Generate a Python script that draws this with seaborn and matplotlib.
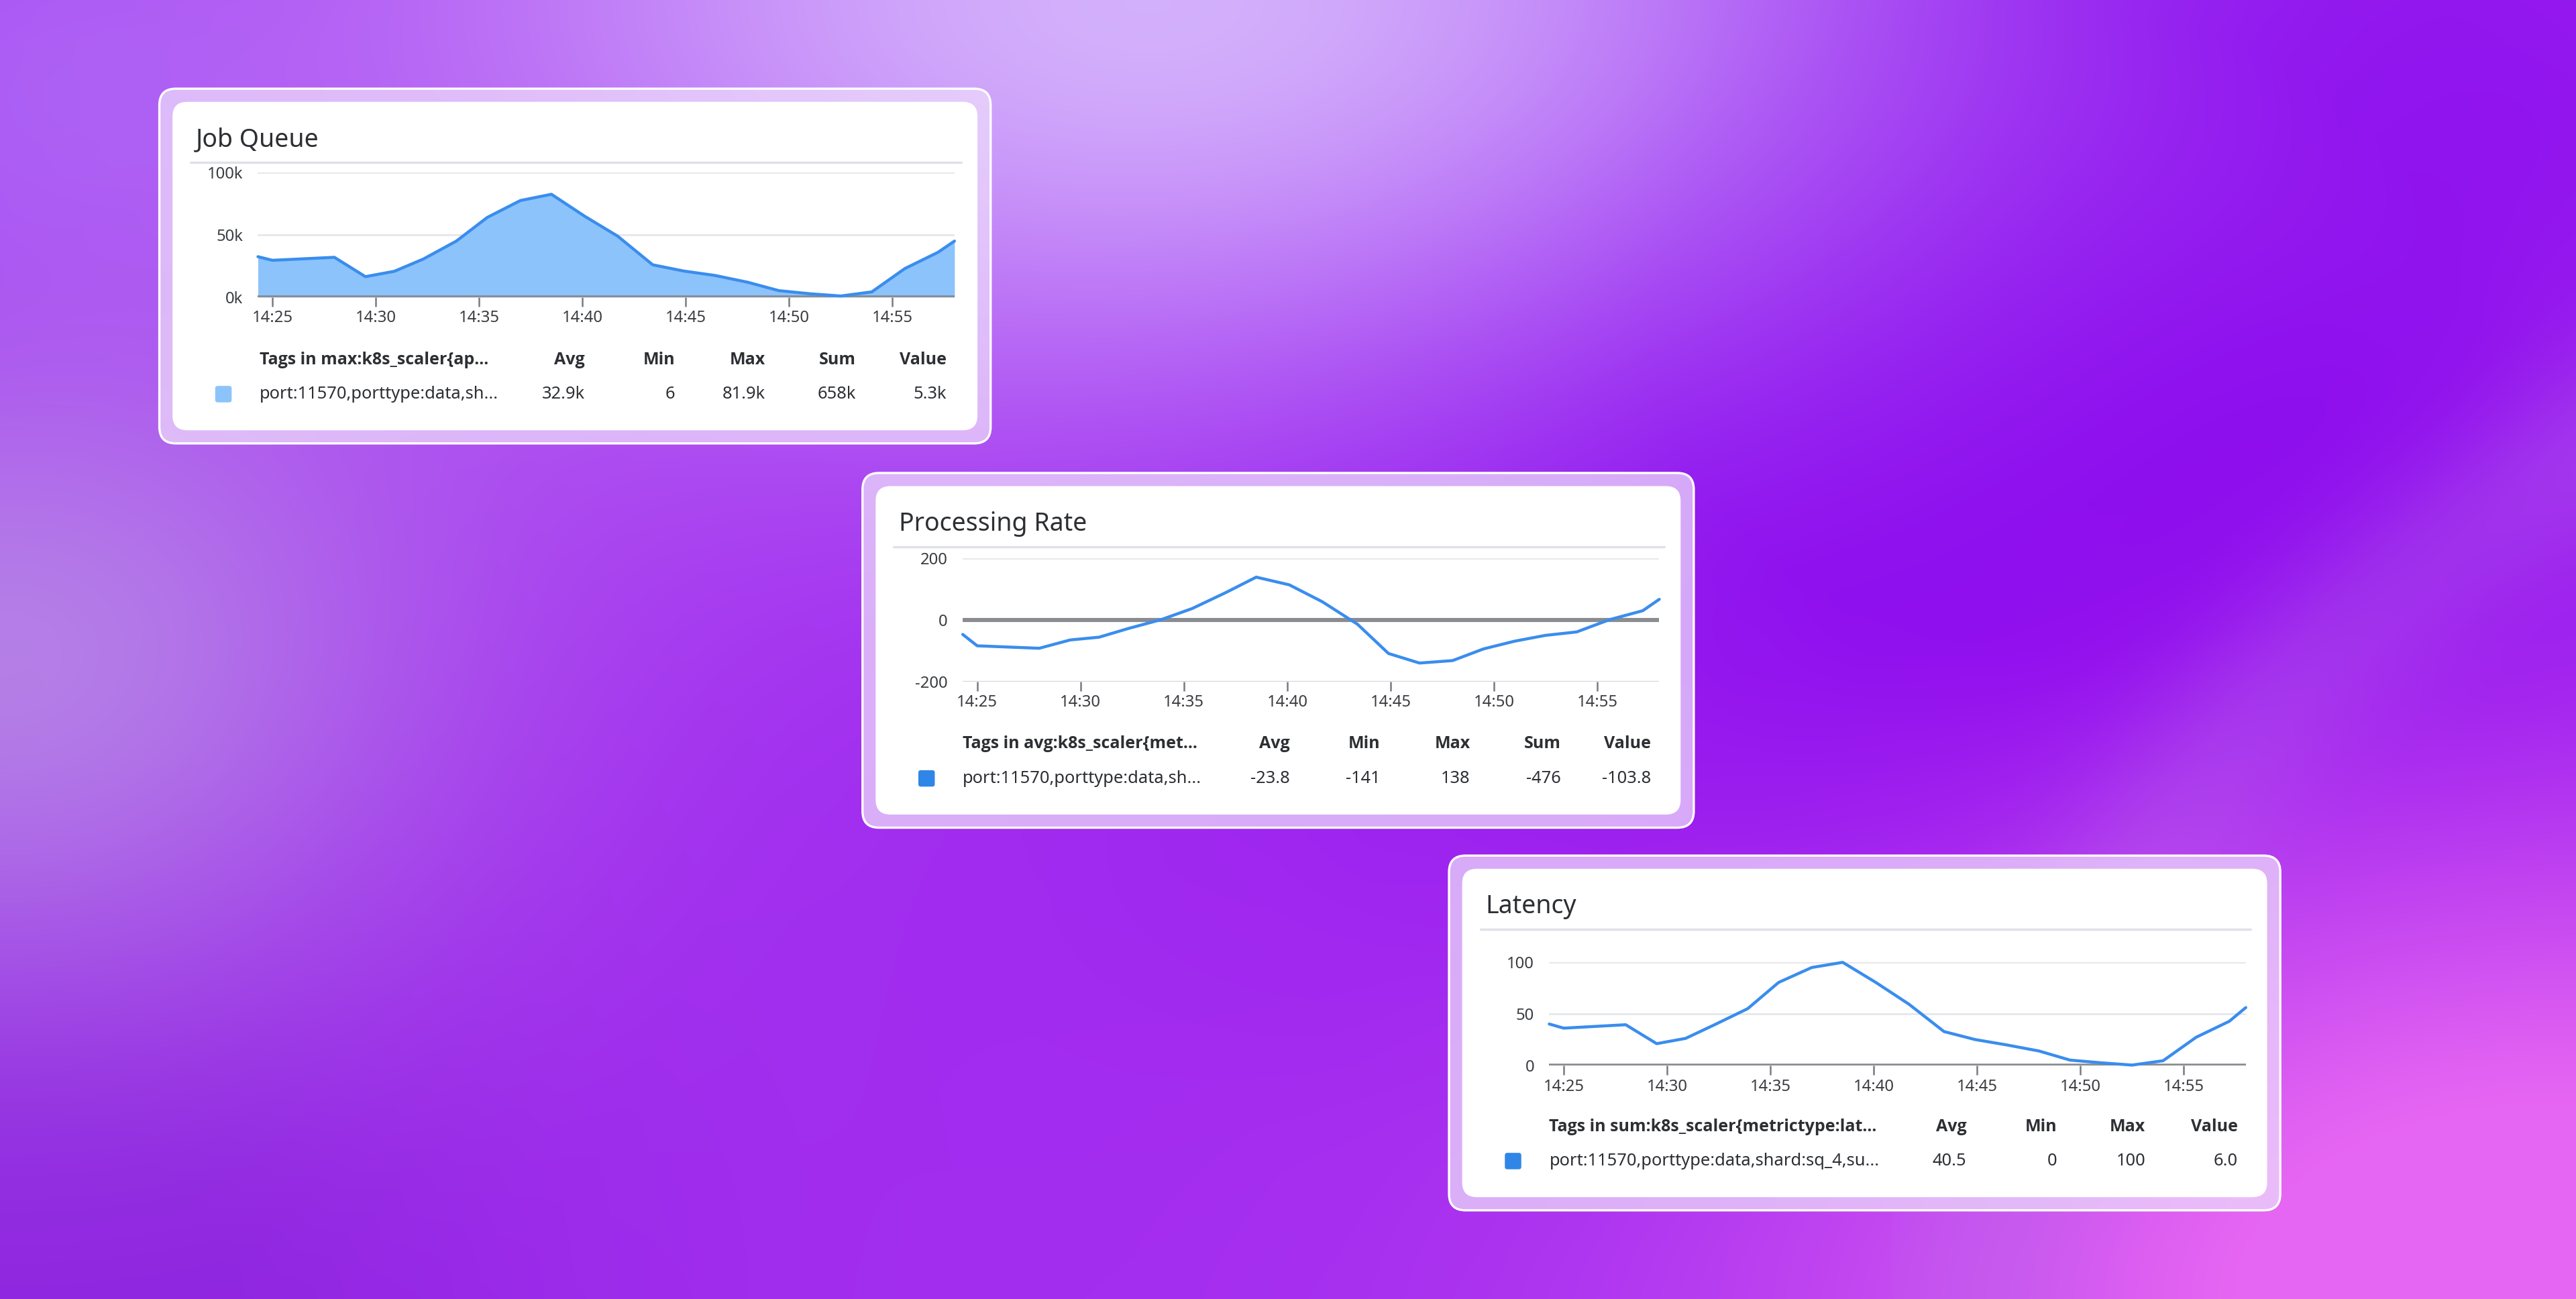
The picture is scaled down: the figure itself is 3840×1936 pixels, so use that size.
import numpy as np
import pandas as pd
import matplotlib
matplotlib.use("Agg")
import matplotlib.pyplot as plt
from matplotlib.patches import FancyBboxPatch
import seaborn as sns

sns.set_theme(style="white")
plt.rcParams['font.family'] = ['Noto Sans', 'DejaVu Sans']

# ---------------- data ----------------
minutes = [24.3, 25.0, 28.0, 29.5, 30.9, 32.3, 33.9, 35.4, 37.0, 38.5, 40.1, 41.7,
           43.4, 44.9, 46.4, 48.0, 49.5, 51.0, 52.5, 54.0, 55.6, 57.2, 58.0]
job_queue = [32500, 29600, 32000, 16500, 20800, 30600, 45000, 64000, 77500, 82500, 65000, 49000,
             26000, 21000, 17500, 12000, 5300, 2800, 1000, 4300, 23000, 36000, 45000]
processing_rate = [-47, -84, -92, -65, -56, -28, 1, 37, 88, 139, 114, 59,
                   -14, -109, -140, -132, -94, -69, -50, -39, 1, 30, 67]
latency = [40.4, 36.4, 39.7, 21.4, 26.5, 39.7, 55.2, 80.6, 95, 100, 80.6, 59.6,
           33.1, 25.4, 20.3, 14.3, 5.5, 2.9, 0.7, 4.9, 27.6, 43, 56.3]
tick_minutes = [25, 30, 35, 40, 45, 50, 55]
tick_labels = ["14:25", "14:30", "14:35", "14:40", "14:45", "14:50", "14:55"]

titles = ["Job Queue", "Processing Rate", "Latency"]
col_headers = [["Tags in max:k8s_scaler{ap...", "Avg", "Min", "Max", "Sum", "Value"],
               ["Tags in avg:k8s_scaler{met...", "Avg", "Min", "Max", "Sum", "Value"],
               ["Tags in sum:k8s_scaler{metrictype:lat...", "Avg", "Min", "Max", "Value"]]
row_values = [["port:11570,porttype:data,sh...", "32.9k", "6", "81.9k", "658k", "5.3k"],
              ["port:11570,porttype:data,sh...", "-23.8", "-141", "138", "-476", "-103.8"],
              ["port:11570,porttype:data,shard:sq_4,su...", "40.5", "0", "100", "6.0"]]

W, H = 1568.0, 791.0
fig = plt.figure(figsize=(19.2, 9.68), dpi=200)

# ---------------- background ----------------
bg = fig.add_axes([0, 0, 1, 1])
bg.set_xlim(0, W); bg.set_ylim(H, 0); bg.axis("off")
yy, xx = np.mgrid[0:H:2, 0:W:2]
def blob(cx, cy, rx, ry):
    return np.exp(-(((xx - cx) / rx) ** 2 + ((yy - cy) / ry) ** 2))
def mix(img, col, w):
    w = w[..., None]
    return img * (1 - w) + np.array(col) * w
img = np.ones(xx.shape + (3,)) * np.array([0.64, 0.18, 0.94])
img = mix(img, [0.53, 0.01, 0.93], np.clip(1.3 * blob(1250, 200, 480, 380), 0, 1))
img = mix(img, [0.90, 0.40, 0.95], np.clip(1.2 * blob(1550, 790, 450, 280), 0, 1))
img = mix(img, [0.56, 0.14, 0.88], np.clip(1.2 * blob(0, 790, 320, 260), 0, 1))
img = mix(img, [0.72, 0.55, 0.90], 0.85 * blob(0, 400, 280, 220))
img = mix(img, [0.66, 0.36, 0.96], 0.8 * blob(0, 60, 200, 150))
img = mix(img, [0.84, 0.72, 0.99], 0.95 * blob(700, 0, 480, 250))
# curved light band right
d3 = (np.hypot(xx - 1900, yy - 900) - 700) / 60.0
img = mix(img, [0.72, 0.40, 0.92], 0.35 * np.exp(-d3 ** 2) * (xx > 1150))
d2 = (xx * 0.55 - yy * 0.83 - 720) / 120.0
img = mix(img, [0.93, 0.62, 0.95], 0.3 * np.exp(-d2 ** 2) * np.clip(yy / 791, 0, 1))
bg.imshow(np.clip(img, 0, 1), extent=[0, W, H, 0], aspect="auto", interpolation="bilinear")

# ---------------- cards ----------------
cards = [(97, 54), (525, 288), (882, 521)]
card_w, card_h = 506, 216
plot_rects = [(157, 105, 581, 181), (586, 340, 1010, 415), (943, 586, 1367, 649)]
col_x = [[158, 356, 411, 466, 521, 576],
         [586, 785, 840, 895, 950, 1005],
         [943, 1197, 1252, 1306, 1362]]
swatch_colors = ["#8cc3fb", "#2f86e6", "#2f86e6"]

for i, (cx, cy) in enumerate(cards):
    bg.add_patch(FancyBboxPatch((cx, cy), card_w, card_h, boxstyle="round,pad=0,rounding_size=10",
                                fc=(0.93, 0.85, 0.99, 0.75), ec="white", lw=1.2))
    bg.add_patch(FancyBboxPatch((cx + 8, cy + 8), card_w - 16, card_h - 16,
                                boxstyle="round,pad=0,rounding_size=9", fc="white", ec="none"))
    bg.text(cx + 22, cy + 31, titles[i], fontsize=13.5, color="#2d2f33", va="center", ha="left")
    bg.plot([cx + 19, cx + 488], [cy + 45, cy + 45], color="#dfe1e8", lw=1.2)
    hy, ry = cy + 165, cy + 186
    for j, (txt, x) in enumerate(zip(col_headers[i], col_x[i])):
        bg.text(x, hy, txt, fontsize=9.0, fontweight="bold", family=["Open Sans", "DejaVu Sans"],
                color="#2d2f33", ha="left" if j == 0 else "right", va="center")
    for j, (txt, x) in enumerate(zip(row_values[i], col_x[i])):
        bg.text(x, ry, txt, fontsize=9.2, color="#2d2f33",
                ha="left" if j == 0 else "right", va="center")
    bg.add_patch(FancyBboxPatch((col_x[i][0] - 27, ry - 5), 10, 10, boxstyle="round,pad=0,rounding_size=1.5",
                                fc=swatch_colors[i], ec="none"))

# ---------------- charts ----------------
series = [job_queue, processing_rate, latency]
ylims = [(0, 100000), (-200, 200), (0, 100)]
yticks = [[0, 50000, 100000], [-200, 0, 200], [0, 50, 100]]
ytlabels = [["0k", "50k", "100k"], ["-200", "0", "200"], ["0", "50", "100"]]

for i in range(3):
    x0, y0, x1, y1 = plot_rects[i]
    ax = fig.add_axes([x0 / W, 1 - y1 / H, (x1 - x0) / W, (y1 - y0) / H])
    ax.patch.set_alpha(0)
    df = pd.DataFrame({"t": minutes, "v": series[i]})
    if i == 0:
        ax.fill_between(df["t"], 0, df["v"], color="#8cc3fb", lw=0, zorder=2)
    sns.lineplot(data=df, x="t", y="v", ax=ax, color="#3a8ded", lw=1.6, zorder=3, clip_on=False)
    ax.set_xlim(minutes[0], minutes[-1])
    ax.set_ylim(*ylims[i])
    ax.set_yticks(yticks[i]); ax.set_yticklabels(ytlabels[i])
    ax.set_xticks(tick_minutes); ax.set_xticklabels(tick_labels)
    for v in yticks[i]:
        ax.axhline(v, color="#e6e7ea", lw=1.0, zorder=1)
    ax.axhline(0, color="#8a8c91", lw=2.2 if i == 1 else 2.0, zorder=2.5)
    if i == 1:
        ax.axhline(-200, color="#d5d7dc", lw=1.2, zorder=1)
    for s in ax.spines.values():
        s.set_visible(False)
    ax.tick_params(axis="x", bottom=True, length=5, width=0.9, color="#777a80", labelsize=8.6,
                   labelcolor="#3a3c40", pad=2)
    ax.tick_params(axis="y", left=False, labelsize=8.6, labelcolor="#3a3c40", pad=2)
    ax.set_xlabel(""); ax.set_ylabel("")
    ax.grid(False)

fig.savefig("out.png", dpi=200)
